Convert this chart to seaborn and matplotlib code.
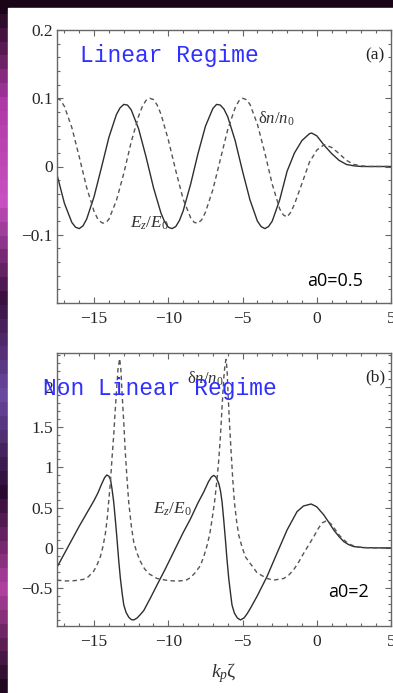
import matplotlib
matplotlib.use("Agg")
import matplotlib.pyplot as plt
from matplotlib.patches import Rectangle
from matplotlib.colors import LinearSegmentedColormap
from matplotlib.ticker import MultipleLocator
import numpy as np
import seaborn as sns

# ---- panel (a): linear regime, a0 = 0.5 ----
zeta_a_ez = [-17.5, -17.0, -16.5, -16.25, -16.0, -15.75, -15.5, -15.0, -14.5, -14.0,
             -13.5, -13.25, -13.0, -12.75, -12.5, -12.0, -11.5, -11.0, -10.5, -10.25,
             -10.0, -9.75, -9.5, -9.25, -9.0, -8.5, -8.0, -7.5, -7.0, -6.75,
             -6.5, -6.25, -6.0, -5.5, -5.0, -4.5, -4.0, -3.75, -3.5, -3.25,
             -3.0, -2.5, -2.0, -1.5, -1.0, -0.5, -0.35, 0.0, 0.5, 1.0,
             1.5, 2.0, 2.5, 3.0, 3.5, 4.0, 4.5, 5.0]
ez_a = [-0.012, -0.054, -0.082, -0.089, -0.091, -0.087, -0.077, -0.044, -0.001, 0.043,
        0.076, 0.086, 0.091, 0.090, 0.083, 0.055, 0.014, -0.031, -0.068, -0.081,
        -0.089, -0.091, -0.088, -0.079, -0.065, -0.026, 0.019, 0.059, 0.085, 0.091,
        0.090, 0.084, 0.073, 0.038, -0.007, -0.049, -0.080, -0.088, -0.091, -0.088,
        -0.080, -0.049, -0.007, 0.020, 0.038, 0.048, 0.049, 0.045, 0.031, 0.019,
        0.009, 0.003, 0.001, 0.0, 0.0, 0.0, 0.0, 0.0]

zeta_a_dn = [-17.5, -17.25, -17.0, -16.5, -16.0, -15.5, -15.0, -14.75, -14.5, -14.4,
             -14.15, -14.0, -13.5, -13.0, -12.5, -12.0, -11.75, -11.5, -11.25, -11.0,
             -10.75, -10.5, -10.0, -9.5, -9.0, -8.5, -8.25, -8.0, -7.75, -7.5,
             -7.0, -6.5, -6.0, -5.5, -5.25, -5.0, -4.75, -4.5, -4.0, -3.5,
             -3.0, -2.5, -2.25, -2.0, -1.75, -1.5, -1.0, -0.5, 0.0, 0.5,
             1.0, 1.5, 2.0, 2.5, 3.0, 3.5, 4.0, 4.5, 5.0]
dn_a = [0.100, 0.097, 0.088, 0.057, 0.014, -0.031, -0.066, -0.077, -0.082, -0.083,
        -0.081, -0.077, -0.050, -0.010, 0.036, 0.074, 0.088, 0.097, 0.100, 0.098,
        0.090, 0.077, 0.039, -0.006, -0.048, -0.075, -0.082, -0.083, -0.078, -0.067,
        -0.034, 0.010, 0.054, 0.086, 0.096, 0.100, 0.098, 0.091, 0.062, 0.020,
        -0.026, -0.062, -0.071, -0.074, -0.067, -0.055, -0.025, 0.006, 0.024, 0.032,
        0.028, 0.019, 0.009, 0.003, 0.001, 0.0, 0.0, 0.0, 0.0]

# ---- panel (b): non linear regime, a0 = 2 ----
zeta_b_ez = [-17.5, -17.0, -16.5, -16.0, -15.5, -15.0, -14.75, -14.5, -14.3, -14.15,
             -14.0, -13.9, -13.8, -13.68, -13.57, -13.46, -13.35, -13.23, -13.1, -13.0,
             -12.85, -12.67, -12.5, -12.33, -12.1, -11.9, -11.66, -11.2, -10.76, -10.2,
             -9.64, -9.0, -8.51, -8.0, -7.6, -7.3, -7.1, -6.94, -6.8, -6.6,
             -6.48, -6.38, -6.27, -6.16, -6.05, -5.93, -5.8, -5.71, -5.55, -5.35,
             -5.14, -4.9, -4.7, -4.47, -4.02, -3.35, -2.68, -2.0, -1.33, -0.9,
             -0.38, 0.0, 0.47, 0.8, 1.14, 1.5, 1.82, 2.15, 2.49, 3.17,
             4.0, 5.0]
ez_b = [-0.24, -0.07, 0.10, 0.27, 0.43, 0.59, 0.68, 0.79, 0.87, 0.905,
        0.89, 0.85, 0.74, 0.57, 0.35, 0.115, -0.14, -0.38, -0.58, -0.71,
        -0.80, -0.86, -0.89, -0.895, -0.87, -0.83, -0.78, -0.62, -0.46, -0.26,
        -0.05, 0.19, 0.36, 0.56, 0.70, 0.82, 0.88, 0.90, 0.88, 0.80,
        0.70, 0.57, 0.35, 0.115, -0.14, -0.38, -0.58, -0.71, -0.81, -0.87,
        -0.895, -0.87, -0.82, -0.75, -0.60, -0.355, -0.066, 0.223, 0.45, 0.52,
        0.545, 0.51, 0.41, 0.32, 0.223, 0.14, 0.078, 0.04, 0.016, 0.003,
        0.0, 0.0]

zeta_b_dn = [-17.5, -17.0, -16.5, -16.0, -15.7, -15.4, -15.03, -14.8, -14.58, -14.4,
             -14.24, -14.12, -14.02, -13.9, -13.8, -13.68, -13.57, -13.48, -13.39, -13.28,
             -13.2, -13.12, -13.0, -12.9, -12.78, -12.67, -12.5, -12.33, -12.1, -11.88,
             -11.6, -11.32, -10.76, -10.2, -9.7, -9.2, -8.8, -8.51, -8.2, -7.84,
             -7.6, -7.39, -7.2, -7.05, -6.88, -6.72, -6.6, -6.49, -6.38, -6.27,
             -6.18, -6.11, -6.04, -5.98, -5.88, -5.77, -5.66, -5.55, -5.4, -5.26,
             -5.05, -4.81, -4.5, -4.25, -4.02, -3.35, -2.9, -2.23, -1.9, -1.55,
             -1.2, -0.88, -0.5, -0.2, 0.1, 0.36, 0.69, 1.0, 1.26, 1.55,
             1.82, 2.15, 2.49, 2.8, 3.17, 3.6, 4.0, 5.0]
dn_b = [-0.40, -0.41, -0.41, -0.40, -0.39, -0.36, -0.29, -0.21, -0.11, 0.02,
        0.18, 0.36, 0.57, 0.82, 1.10, 1.40, 1.73, 1.98, 2.22, 2.35,
        2.22, 1.93, 1.55, 1.19, 0.85, 0.57, 0.28, 0.07, -0.07, -0.17,
        -0.26, -0.32, -0.38, -0.40, -0.41, -0.41, -0.40, -0.37, -0.31, -0.22,
        -0.10, 0.03, 0.18, 0.36, 0.58, 0.85, 1.10, 1.39, 1.75, 2.10,
        2.28, 2.34, 2.20, 1.93, 1.55, 1.19, 0.85, 0.57, 0.33, 0.16,
        0.02, -0.11, -0.19, -0.25, -0.31, -0.38, -0.40, -0.38, -0.34, -0.27,
        -0.17, -0.066, 0.05, 0.14, 0.24, 0.31, 0.34, 0.29, 0.223, 0.15,
        0.099, 0.05, 0.025, 0.01, 0.005, 0.001, 0.0, 0.0]

x_ticks = [-15, -10, -5, 0, 5]
x_labels = ["\u221215", "\u221210", "\u22125", "0", "5"]
y_ticks_a = [-0.1, 0.0, 0.1, 0.2]
y_labels_a = ["\u22120.1", "0", "0.1", "0.2"]
y_ticks_b = [-0.5, 0.0, 0.5, 1.0, 1.5, 2.0]
y_labels_b = ["\u22120.5", "0", "0.5", "1", "1.5", "2"]

sns.set_style("ticks")
plt.rcParams["font.family"] = ["Liberation Serif", "DejaVu Serif"]
plt.rcParams["mathtext.fontset"] = "custom"
plt.rcParams["mathtext.rm"] = "Liberation Serif"
plt.rcParams["mathtext.it"] = "Liberation Serif:italic"

W, H = 393, 693
fig = plt.figure(figsize=(W / 100, H / 100), dpi=100)

# photo-like strip on the left / top
bg = fig.add_axes([0, 0, 1, 1], zorder=-10)
cmap = LinearSegmentedColormap.from_list(
    "bgstrip", ["#1a0518", "#b03aa8", "#c850c0", "#3a1040", "#6a4aa0", "#2a0a30", "#b040a0", "#200820"])
bg.imshow(np.linspace(0, 1, 50).reshape(-1, 1), aspect="auto", cmap=cmap, extent=[0, 1, 0, 1])
bg.add_patch(Rectangle((8 / W, 0), 1 - 8 / W, 1 - 8 / H, color="white", zorder=2))
bg.set_xlim(0, 1)
bg.set_ylim(0, 1)
bg.axis("off")

ax_a = fig.add_axes([57 / W, 1 - 303 / H, 334 / W, 273 / H])
ax_b = fig.add_axes([57 / W, 1 - 626 / H, 334 / W, 273 / H])

solid_kw = dict(color="#2e2e2e", linewidth=1.0, estimator=None, sort=False)
dash_kw = dict(color="#555555", linewidth=1.0, estimator=None, sort=False,
               linestyle=(0, (3.2, 2.4)))

sns.lineplot(x=zeta_a_ez, y=ez_a, ax=ax_a, **solid_kw)
sns.lineplot(x=zeta_a_dn, y=dn_a, ax=ax_a, **dash_kw)
sns.lineplot(x=zeta_b_ez, y=ez_b, ax=ax_b, **solid_kw)
sns.lineplot(x=zeta_b_dn, y=dn_b, ax=ax_b, **dash_kw)

ax_a.set_ylim(-0.2, 0.2)
ax_b.set_ylim(-0.97, 2.42)

for ax, yt, yl, ymin in [(ax_a, y_ticks_a, y_labels_a, 0.02), (ax_b, y_ticks_b, y_labels_b, 0.1)]:
    ax.set_xlim(-17.5, 5)
    ax.set_xticks(x_ticks)
    ax.set_xticklabels(x_labels)
    ax.set_yticks(yt)
    ax.set_yticklabels(yl)
    ax.xaxis.set_minor_locator(MultipleLocator(1))
    ax.yaxis.set_minor_locator(MultipleLocator(ymin))
    ax.tick_params(which="both", direction="in", top=True, right=True,
                   color="#666666", labelsize=12.5, width=0.8)
    ax.tick_params(which="major", length=4, pad=3)
    ax.tick_params(which="minor", length=2)
    ax.tick_params(axis="x", which="major", pad=6)
    for s in ax.spines.values():
        s.set_color("#666666")
        s.set_linewidth(1.0)
    ax.set_xlabel("")
    ax.set_ylabel("")
    ax.set_facecolor("white")

mono = dict(family=["Liberation Mono", "DejaVu Sans Mono"], color="#2f2fff", fontsize=16.5)

# panel (a) texts
ax_a.text(-15.95, 0.163, "Linear Regime", ha="left", va="center", **mono)
ax_a.text(3.93, 0.163, "(a)", ha="center", va="center", fontsize=12.5, color="#222222")
ax_a.text(-3.95, 0.070, r"$\mathrm{\delta}n/n_0$", ha="left", va="center", fontsize=12, color="#333333")
ax_a.text(-12.58, -0.089, r"$E_z/E_0$", ha="left", va="baseline", fontsize=12.5, color="#333333")
ax_a.text(-0.65, -0.168, "a0=0.5", ha="left", va="center", fontsize=13,
          family=["Open Sans", "DejaVu Sans"], color="black")

# panel (b) texts
ax_b.text(3.93, 2.12, "(b)", ha="center", va="center", fontsize=12.5, color="#222222")
ax_b.text(-8.74, 2.1, r"$\mathrm{\delta}n/n_0$", ha="left", va="center", fontsize=12, color="#333333")
ax_b.text(-18.44, 1.98, "Non Linear Regime", ha="left", va="center", clip_on=False, zorder=10, **mono)
ax_b.text(-11.03, 0.43, r"$E_z/E_0$", ha="left", va="baseline", fontsize=12.5, color="#333333")
ax_b.text(0.76, -0.545, "a0=2", ha="left", va="center", fontsize=13,
          family=["Open Sans", "DejaVu Sans"], color="black")

fig.text(224 / W, 1 - 673 / H, r"$k_p\mathrm{\zeta}$", ha="center", va="center", fontsize=14, color="#333333")

fig.savefig("out.png", dpi=100)
